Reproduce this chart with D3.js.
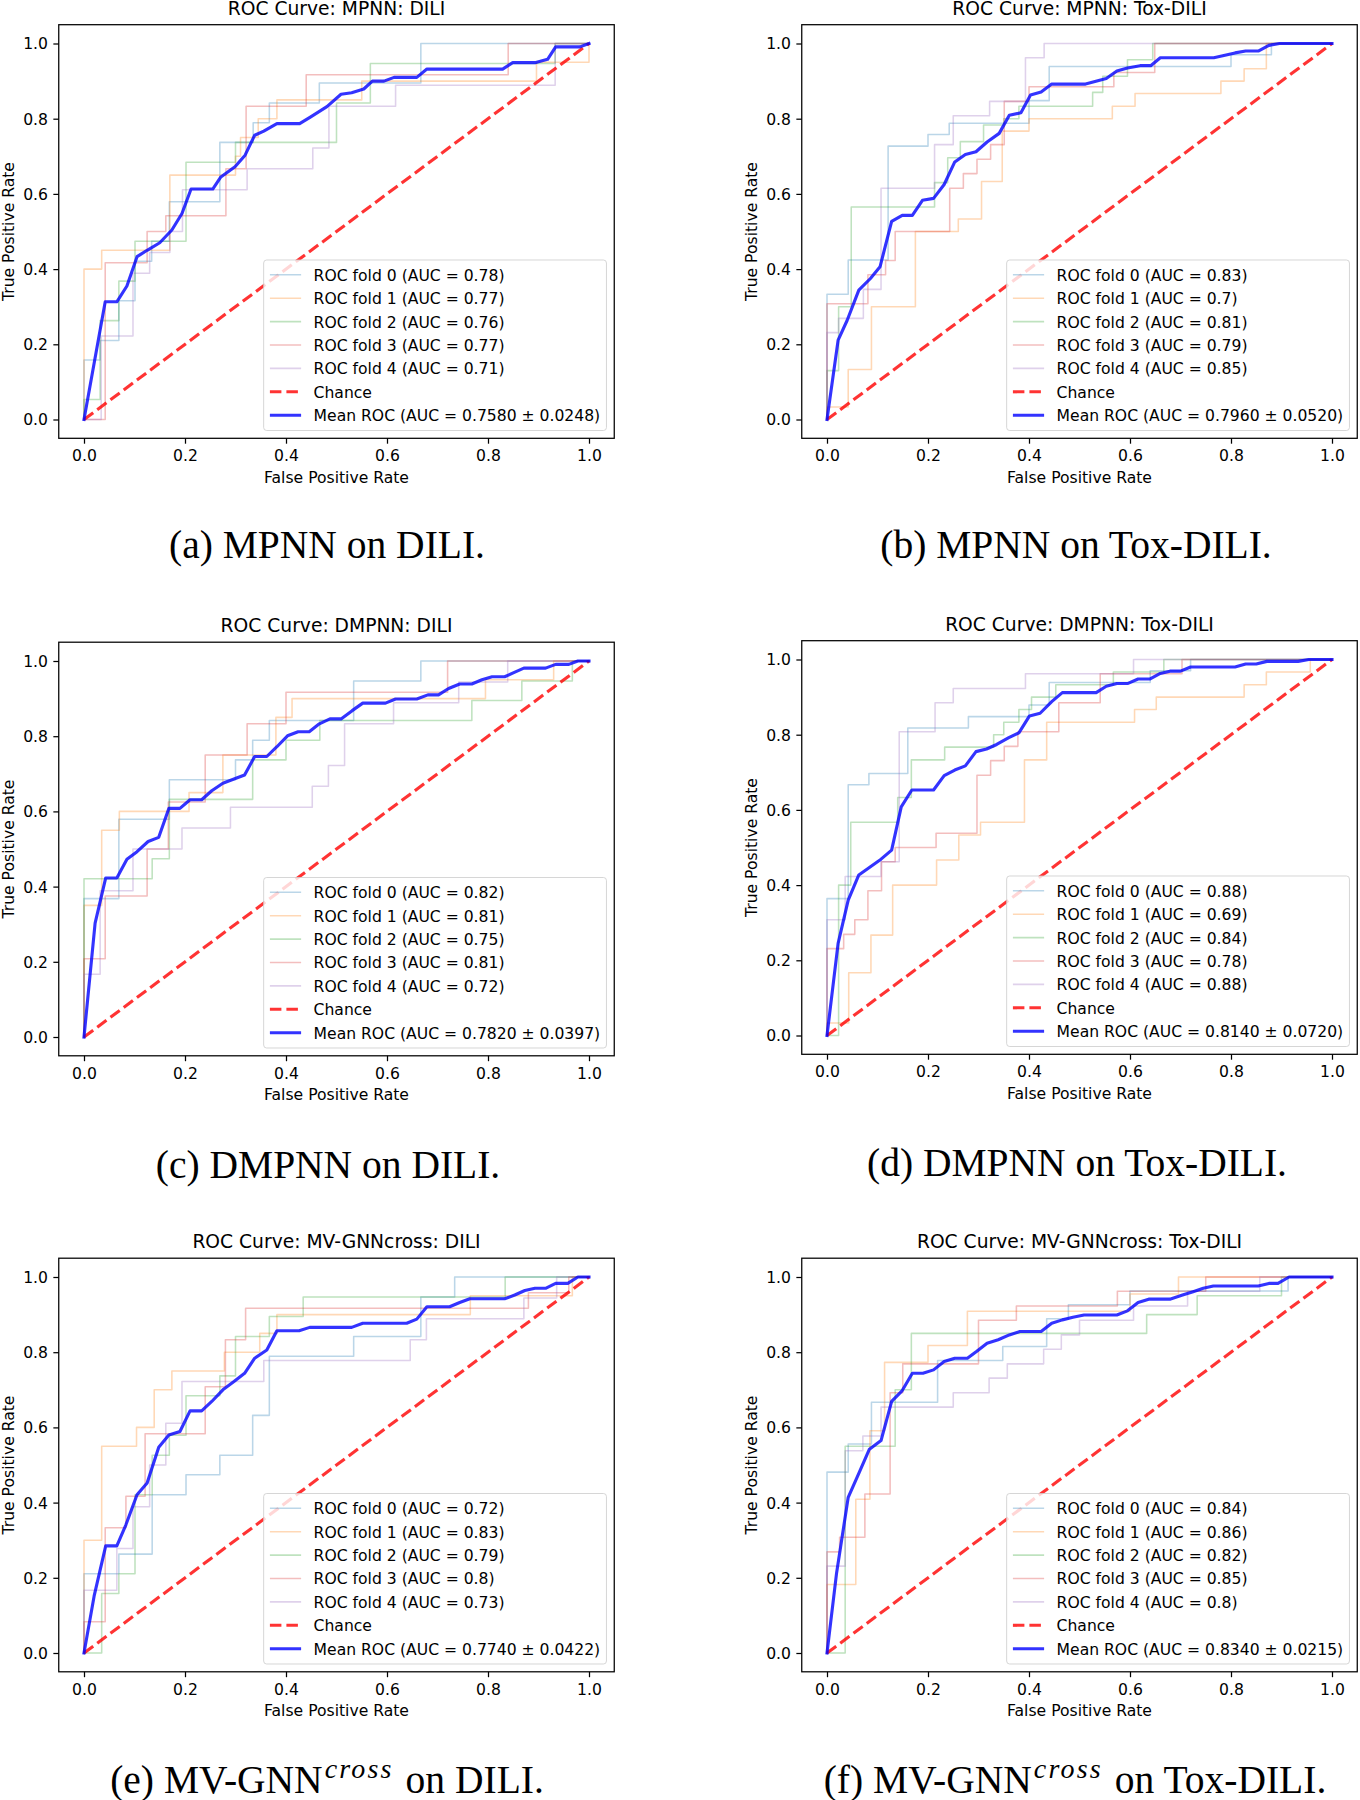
<!DOCTYPE html>
<html>
<head>
<meta charset="utf-8">
<script src="https://cdn.jsdelivr.net/npm/d3@7"></script>
<style>
  html, body { margin: 0; padding: 0; background: #ffffff; }
  svg { display: block; }
</style>
</head>
<body>
<svg id="chart" width="1360" height="1800"></svg>
<script>
// ---------------- data ----------------
const ticks = [0, 0.2, 0.4, 0.6, 0.8, 1.0];
const tickLabels = ["0.0", "0.2", "0.4", "0.6", "0.8", "1.0"];
const foldNames = ["ROC fold 0", "ROC fold 1", "ROC fold 2", "ROC fold 3", "ROC fold 4"];
const foldColors = ["#1f77b4", "#ff7f0e", "#2ca02c", "#d62728", "#9467bd"];
const chanceLine = [[0, 0], [1, 1]];

const titles = ["ROC Curve: MPNN: DILI", "ROC Curve: MPNN: Tox-DILI",
  "ROC Curve: DMPNN: DILI", "ROC Curve: DMPNN: Tox-DILI",
  "ROC Curve: MV-GNNcross: DILI", "ROC Curve: MV-GNNcross: Tox-DILI"];
const captionLetters = ["(a)", "(b)", "(c)", "(d)", "(e)", "(f)"];
const captionModels = ["MPNN", "MPNN", "DMPNN", "DMPNN", "MV-GNN", "MV-GNN"];
const captionSup = ["", "", "", "", "cross", "cross"];
const captionDatasets = ["DILI", "Tox-DILI", "DILI", "Tox-DILI", "DILI", "Tox-DILI"];

const foldAUC = [
  ["0.78", "0.77", "0.76", "0.77", "0.71"],
  ["0.83", "0.7", "0.81", "0.79", "0.85"],
  ["0.82", "0.81", "0.75", "0.81", "0.72"],
  ["0.88", "0.69", "0.84", "0.78", "0.88"],
  ["0.72", "0.83", "0.79", "0.8", "0.73"],
  ["0.84", "0.86", "0.82", "0.85", "0.8"]
];
const meanAUC = ["0.7580 ± 0.0248", "0.7960 ± 0.0520", "0.7820 ± 0.0397",
  "0.8140 ± 0.0720", "0.7740 ± 0.0422", "0.8340 ± 0.0215"];

// (a) MPNN: DILI
const A_fold0 = [[0,0],[0,0.158],[0.032,0.158],[0.032,0.21],[0.069,0.21],[0.069,0.316],[0.101,0.316],[0.101,0.421],[0.134,0.421],[0.134,0.474],[0.169,0.474],[0.169,0.579],[0.269,0.579],[0.269,0.737],[0.335,0.737],[0.335,0.789],[0.367,0.789],[0.367,0.842],[0.466,0.842],[0.466,0.895],[0.667,0.895],[0.667,1],[1,1]];
const A_fold1 = [[0,0],[0,0.4],[0.035,0.4],[0.035,0.45],[0.17,0.45],[0.17,0.65],[0.3,0.65],[0.3,0.7],[0.31,0.7],[0.31,0.75],[0.345,0.75],[0.345,0.8],[0.382,0.8],[0.382,0.85],[0.55,0.85],[0.55,0.9],[0.896,0.9],[0.896,0.95],[1,0.95],[1,1]];
const A_fold2 = [[0,0],[0,0.053],[0.032,0.053],[0.032,0.263],[0.069,0.263],[0.069,0.368],[0.101,0.368],[0.101,0.474],[0.202,0.474],[0.202,0.684],[0.3,0.684],[0.3,0.737],[0.5,0.737],[0.5,0.842],[0.567,0.842],[0.567,0.947],[0.933,0.947],[0.933,1],[1,1]];
const A_fold3 = [[0,0],[0.042,0],[0.042,0.417],[0.125,0.417],[0.125,0.5],[0.162,0.5],[0.162,0.542],[0.281,0.542],[0.281,0.667],[0.321,0.667],[0.321,0.833],[0.44,0.833],[0.44,0.917],[0.84,0.917],[0.84,1],[1,1]];
const A_fold4 = [[0,0],[0.034,0],[0.034,0.222],[0.097,0.222],[0.097,0.389],[0.13,0.389],[0.13,0.444],[0.17,0.444],[0.17,0.5],[0.195,0.5],[0.195,0.611],[0.323,0.611],[0.323,0.667],[0.453,0.667],[0.453,0.722],[0.485,0.722],[0.485,0.833],[0.617,0.833],[0.617,0.889],[0.933,0.889],[0.933,1],[1,1]];
const A_mean = [[0,0],[0.042,0.313],[0.065,0.313],[0.085,0.355],[0.105,0.433],[0.125,0.45],[0.15,0.47],[0.174,0.504],[0.194,0.548],[0.212,0.613],[0.255,0.613],[0.271,0.645],[0.299,0.672],[0.319,0.703],[0.338,0.756],[0.356,0.767],[0.382,0.787],[0.427,0.787],[0.449,0.805],[0.481,0.832],[0.509,0.865],[0.53,0.869],[0.554,0.879],[0.571,0.9],[0.594,0.9],[0.614,0.91],[0.659,0.91],[0.679,0.932],[0.829,0.932],[0.849,0.949],[0.893,0.949],[0.918,0.958],[0.934,0.991],[0.982,0.991],[1,1]];

// (b) MPNN: Tox-DILI
const B_fold0 = [[0,0],[0,0.333],[0.042,0.333],[0.042,0.424],[0.121,0.424],[0.121,0.727],[0.2,0.727],[0.2,0.758],[0.242,0.758],[0.242,0.788],[0.4,0.788],[0.4,0.848],[0.44,0.848],[0.44,0.939],[0.8,0.939],[0.8,0.97],[0.88,0.97],[0.88,1],[1,1]];
const B_fold1 = [[0,0],[0,0.033],[0.042,0.033],[0.042,0.133],[0.088,0.133],[0.088,0.3],[0.175,0.3],[0.175,0.5],[0.26,0.5],[0.26,0.533],[0.306,0.533],[0.306,0.633],[0.347,0.633],[0.347,0.767],[0.4,0.767],[0.4,0.8],[0.565,0.8],[0.565,0.833],[0.61,0.833],[0.61,0.867],[0.78,0.867],[0.78,0.9],[0.826,0.9],[0.826,0.933],[0.87,0.933],[0.87,1],[1,1]];
const B_fold2 = [[0,0],[0,0.13],[0.023,0.13],[0.023,0.3],[0.048,0.3],[0.048,0.565],[0.213,0.565],[0.213,0.63],[0.239,0.63],[0.239,0.696],[0.264,0.696],[0.264,0.739],[0.31,0.739],[0.31,0.783],[0.35,0.783],[0.35,0.8],[0.38,0.8],[0.38,0.833],[0.526,0.833],[0.526,0.87],[0.546,0.87],[0.546,0.913],[0.595,0.913],[0.595,0.957],[0.645,0.957],[0.645,1],[1,1]];
const B_fold3 = [[0,0],[0,0.308],[0.081,0.308],[0.081,0.385],[0.116,0.385],[0.116,0.423],[0.135,0.423],[0.135,0.5],[0.243,0.5],[0.243,0.615],[0.27,0.615],[0.27,0.654],[0.297,0.654],[0.297,0.692],[0.324,0.692],[0.324,0.731],[0.351,0.731],[0.351,0.846],[0.4,0.846],[0.4,0.885],[0.568,0.885],[0.568,0.923],[0.649,0.923],[0.649,1],[1,1]];
const B_fold4 = [[0,0],[0,0.231],[0.023,0.231],[0.023,0.269],[0.072,0.269],[0.072,0.346],[0.107,0.346],[0.107,0.615],[0.213,0.615],[0.213,0.731],[0.25,0.731],[0.25,0.808],[0.322,0.808],[0.322,0.846],[0.393,0.846],[0.393,0.962],[0.43,0.962],[0.43,1],[1,1]];
const B_mean = [[0,0],[0.022,0.211],[0.04,0.264],[0.063,0.344],[0.086,0.375],[0.105,0.406],[0.128,0.527],[0.149,0.543],[0.169,0.543],[0.189,0.583],[0.211,0.588],[0.232,0.625],[0.253,0.685],[0.274,0.705],[0.295,0.712],[0.317,0.738],[0.341,0.761],[0.361,0.809],[0.384,0.816],[0.403,0.863],[0.424,0.871],[0.445,0.892],[0.512,0.892],[0.553,0.907],[0.574,0.927],[0.595,0.935],[0.62,0.941],[0.641,0.941],[0.66,0.962],[0.766,0.962],[0.808,0.975],[0.829,0.98],[0.854,0.98],[0.875,0.995],[0.896,1],[1,1]];

// (c) DMPNN: DILI
const C_fold0 = [[0,0],[0,0.368],[0.069,0.368],[0.069,0.579],[0.169,0.579],[0.169,0.684],[0.3,0.684],[0.3,0.737],[0.334,0.737],[0.334,0.789],[0.367,0.789],[0.367,0.842],[0.534,0.842],[0.534,0.947],[0.667,0.947],[0.667,1],[1,1]];
const C_fold1 = [[0,0],[0,0.35],[0.035,0.35],[0.035,0.55],[0.07,0.55],[0.07,0.6],[0.208,0.6],[0.208,0.65],[0.275,0.65],[0.275,0.75],[0.38,0.75],[0.38,0.85],[0.412,0.85],[0.412,0.9],[0.795,0.9],[0.795,0.95],[0.93,0.95],[0.93,1],[1,1]];
const C_fold2 = [[0,0],[0,0.421],[0.135,0.421],[0.135,0.474],[0.169,0.474],[0.169,0.632],[0.334,0.632],[0.334,0.737],[0.4,0.737],[0.4,0.789],[0.467,0.789],[0.467,0.842],[0.768,0.842],[0.768,0.895],[0.867,0.895],[0.867,0.947],[0.967,0.947],[0.967,1],[1,1]];
const C_fold3 = [[0,0],[0,0.208],[0.042,0.208],[0.042,0.375],[0.125,0.375],[0.125,0.5],[0.167,0.5],[0.167,0.625],[0.24,0.625],[0.24,0.75],[0.323,0.75],[0.323,0.833],[0.4,0.833],[0.4,0.917],[0.72,0.917],[0.72,1],[1,1]];
const C_fold4 = [[0,0],[0,0.167],[0.032,0.167],[0.032,0.389],[0.097,0.389],[0.097,0.5],[0.194,0.5],[0.194,0.556],[0.29,0.556],[0.29,0.611],[0.452,0.611],[0.452,0.667],[0.484,0.667],[0.484,0.722],[0.516,0.722],[0.516,0.833],[0.613,0.833],[0.613,0.889],[0.742,0.889],[0.742,0.944],[0.839,0.944],[0.839,1],[1,1]];
const C_mean = [[0,0],[0.022,0.303],[0.043,0.423],[0.065,0.423],[0.085,0.473],[0.105,0.493],[0.127,0.52],[0.148,0.531],[0.168,0.608],[0.19,0.608],[0.21,0.631],[0.233,0.631],[0.253,0.655],[0.275,0.675],[0.297,0.686],[0.318,0.697],[0.338,0.746],[0.362,0.746],[0.382,0.772],[0.403,0.801],[0.424,0.812],[0.446,0.812],[0.466,0.833],[0.487,0.846],[0.509,0.846],[0.531,0.868],[0.552,0.888],[0.597,0.888],[0.617,0.899],[0.659,0.899],[0.681,0.91],[0.702,0.91],[0.722,0.927],[0.744,0.939],[0.768,0.939],[0.788,0.95],[0.808,0.958],[0.833,0.958],[0.851,0.969],[0.871,0.981],[0.914,0.981],[0.934,0.991],[0.96,0.991],[0.978,1],[1,1]];

// (d) DMPNN: Tox-DILI
const D_fold0 = [[0,0],[0,0.364],[0.042,0.364],[0.042,0.667],[0.083,0.667],[0.083,0.697],[0.16,0.697],[0.16,0.818],[0.28,0.818],[0.28,0.848],[0.4,0.848],[0.4,0.879],[0.44,0.879],[0.44,0.939],[0.64,0.939],[0.64,0.97],[0.72,0.97],[0.72,1],[1,1]];
const D_fold1 = [[0,0],[0,0.033],[0.043,0.033],[0.043,0.167],[0.087,0.167],[0.087,0.267],[0.13,0.267],[0.13,0.4],[0.217,0.4],[0.217,0.467],[0.261,0.467],[0.261,0.533],[0.304,0.533],[0.304,0.567],[0.391,0.567],[0.391,0.733],[0.435,0.733],[0.435,0.833],[0.609,0.833],[0.609,0.867],[0.652,0.867],[0.652,0.9],[0.826,0.9],[0.826,0.933],[0.87,0.933],[0.87,0.967],[0.957,0.967],[0.957,1],[1,1]];
const D_fold2 = [[0,0],[0.023,0],[0.023,0.4],[0.047,0.4],[0.047,0.567],[0.14,0.567],[0.14,0.633],[0.167,0.633],[0.167,0.733],[0.233,0.733],[0.233,0.767],[0.33,0.767],[0.33,0.8],[0.35,0.8],[0.35,0.833],[0.38,0.833],[0.38,0.867],[0.405,0.867],[0.405,0.9],[0.453,0.9],[0.453,0.933],[0.567,0.933],[0.567,0.967],[0.667,0.967],[0.667,1],[1,1]];
const D_fold3 = [[0,0],[0,0.231],[0.033,0.231],[0.033,0.269],[0.055,0.269],[0.055,0.308],[0.081,0.308],[0.081,0.385],[0.108,0.385],[0.108,0.462],[0.135,0.462],[0.135,0.5],[0.216,0.5],[0.216,0.538],[0.297,0.538],[0.297,0.692],[0.324,0.692],[0.324,0.731],[0.351,0.731],[0.351,0.769],[0.378,0.769],[0.378,0.808],[0.459,0.808],[0.459,0.885],[0.541,0.885],[0.541,0.962],[0.703,0.962],[0.703,1],[1,1]];
const D_fold4 = [[0,0],[0,0.308],[0.036,0.308],[0.036,0.423],[0.107,0.423],[0.107,0.462],[0.143,0.462],[0.143,0.808],[0.214,0.808],[0.214,0.885],[0.25,0.885],[0.25,0.923],[0.393,0.923],[0.393,0.962],[0.607,0.962],[0.607,1],[1,1]];
const D_mean = [[0,0],[0.022,0.245],[0.042,0.36],[0.063,0.427],[0.086,0.449],[0.107,0.469],[0.128,0.493],[0.147,0.608],[0.168,0.653],[0.211,0.653],[0.232,0.691],[0.253,0.706],[0.274,0.717],[0.295,0.755],[0.316,0.762],[0.336,0.774],[0.36,0.792],[0.38,0.805],[0.401,0.85],[0.422,0.857],[0.445,0.888],[0.466,0.912],[0.533,0.912],[0.553,0.929],[0.574,0.936],[0.595,0.936],[0.616,0.948],[0.639,0.948],[0.66,0.963],[0.679,0.969],[0.7,0.969],[0.72,0.98],[0.808,0.98],[0.829,0.988],[0.85,0.988],[0.871,0.995],[0.933,0.995],[0.954,1],[1,1]];

// (e) MV-GNNcross: DILI
const E_fold0 = [[0,0],[0,0.211],[0.069,0.211],[0.069,0.263],[0.135,0.263],[0.135,0.421],[0.202,0.421],[0.202,0.474],[0.269,0.474],[0.269,0.526],[0.334,0.526],[0.334,0.632],[0.367,0.632],[0.367,0.789],[0.534,0.789],[0.534,0.842],[0.667,0.842],[0.667,0.947],[0.734,0.947],[0.734,1],[1,1]];
const E_fold1 = [[0,0],[0,0.3],[0.035,0.3],[0.035,0.55],[0.104,0.55],[0.104,0.6],[0.139,0.6],[0.139,0.7],[0.174,0.7],[0.174,0.75],[0.278,0.75],[0.278,0.8],[0.348,0.8],[0.348,0.85],[0.382,0.85],[0.382,0.9],[0.765,0.9],[0.765,0.95],[0.967,0.95],[0.967,1],[1,1]];
const E_fold2 = [[0,0],[0.035,0],[0.035,0.158],[0.069,0.158],[0.069,0.211],[0.101,0.211],[0.101,0.421],[0.135,0.421],[0.135,0.526],[0.169,0.526],[0.169,0.579],[0.202,0.579],[0.202,0.684],[0.269,0.684],[0.269,0.737],[0.3,0.737],[0.3,0.842],[0.367,0.842],[0.367,0.895],[0.434,0.895],[0.434,0.947],[0.834,0.947],[0.834,1],[1,1]];
const E_fold3 = [[0,0],[0,0.083],[0.042,0.083],[0.042,0.333],[0.083,0.333],[0.083,0.417],[0.121,0.417],[0.121,0.583],[0.24,0.583],[0.24,0.708],[0.28,0.708],[0.28,0.833],[0.32,0.833],[0.32,0.917],[0.88,0.917],[0.88,0.958],[0.96,0.958],[0.96,1],[1,1]];
const E_fold4 = [[0,0],[0,0.167],[0.065,0.167],[0.065,0.278],[0.097,0.278],[0.097,0.389],[0.13,0.389],[0.13,0.5],[0.162,0.5],[0.162,0.611],[0.194,0.611],[0.194,0.722],[0.356,0.722],[0.356,0.778],[0.646,0.778],[0.646,0.833],[0.678,0.833],[0.678,0.889],[0.871,0.889],[0.871,0.944],[0.936,0.944],[0.936,1],[1,1]];
const E_mean = [[0,0],[0.02,0.151],[0.043,0.285],[0.065,0.285],[0.083,0.341],[0.105,0.421],[0.125,0.452],[0.148,0.547],[0.168,0.58],[0.19,0.589],[0.21,0.644],[0.233,0.644],[0.253,0.669],[0.275,0.7],[0.297,0.722],[0.318,0.744],[0.338,0.784],[0.362,0.806],[0.382,0.857],[0.426,0.857],[0.447,0.866],[0.53,0.866],[0.552,0.877],[0.639,0.877],[0.659,0.888],[0.679,0.921],[0.724,0.921],[0.744,0.932],[0.764,0.942],[0.833,0.942],[0.853,0.952],[0.873,0.964],[0.893,0.97],[0.914,0.97],[0.934,0.983],[0.958,0.983],[0.978,1],[1,1]];

// (f) MV-GNNcross: Tox-DILI
const F_fold0 = [[0,0],[0,0.481],[0.042,0.481],[0.042,0.556],[0.088,0.556],[0.088,0.667],[0.219,0.667],[0.219,0.778],[0.348,0.778],[0.348,0.815],[0.435,0.815],[0.435,0.889],[0.478,0.889],[0.478,0.926],[0.6,0.926],[0.6,0.963],[0.913,0.963],[0.913,1],[1,1]];
const F_fold1 = [[0,0],[0,0.182],[0.057,0.182],[0.057,0.409],[0.085,0.409],[0.085,0.591],[0.114,0.591],[0.114,0.773],[0.2,0.773],[0.2,0.818],[0.278,0.818],[0.278,0.909],[0.6,0.909],[0.6,0.955],[0.696,0.955],[0.696,1],[1,1]];
const F_fold2 = [[0,0],[0.036,0],[0.036,0.55],[0.135,0.55],[0.135,0.7],[0.167,0.7],[0.167,0.85],[0.633,0.85],[0.633,0.9],[0.733,0.9],[0.733,0.95],[0.9,0.95],[0.9,1],[1,1]];
const F_fold3 = [[0,0],[0,0.269],[0.025,0.269],[0.025,0.308],[0.075,0.308],[0.075,0.423],[0.125,0.423],[0.125,0.692],[0.15,0.692],[0.15,0.769],[0.3,0.769],[0.3,0.885],[0.375,0.885],[0.375,0.923],[0.575,0.923],[0.575,0.962],[0.75,0.962],[0.75,1],[1,1]];
const F_fold4 = [[0,0],[0,0.231],[0.036,0.231],[0.036,0.538],[0.071,0.538],[0.071,0.577],[0.107,0.577],[0.107,0.654],[0.25,0.654],[0.25,0.692],[0.321,0.692],[0.321,0.731],[0.357,0.731],[0.357,0.769],[0.429,0.769],[0.429,0.808],[0.464,0.808],[0.464,0.846],[0.5,0.846],[0.5,0.885],[0.607,0.885],[0.607,0.923],[0.714,0.923],[0.714,0.962],[0.857,0.962],[0.857,1],[1,1]];
const F_mean = [[0,0],[0.019,0.213],[0.042,0.414],[0.063,0.478],[0.084,0.542],[0.107,0.565],[0.128,0.669],[0.149,0.698],[0.169,0.744],[0.19,0.744],[0.211,0.753],[0.232,0.775],[0.253,0.784],[0.278,0.784],[0.296,0.802],[0.317,0.824],[0.339,0.833],[0.361,0.846],[0.382,0.855],[0.424,0.855],[0.445,0.877],[0.466,0.886],[0.487,0.893],[0.509,0.899],[0.574,0.899],[0.595,0.91],[0.616,0.932],[0.637,0.941],[0.679,0.941],[0.704,0.952],[0.725,0.961],[0.745,0.97],[0.765,0.976],[0.854,0.976],[0.875,0.983],[0.893,0.983],[0.915,1],[1,1]];

const allFolds = [
  [A_fold0, A_fold1, A_fold2, A_fold3, A_fold4],
  [B_fold0, B_fold1, B_fold2, B_fold3, B_fold4],
  [C_fold0, C_fold1, C_fold2, C_fold3, C_fold4],
  [D_fold0, D_fold1, D_fold2, D_fold3, D_fold4],
  [E_fold0, E_fold1, E_fold2, E_fold3, E_fold4],
  [F_fold0, F_fold1, F_fold2, F_fold3, F_fold4]
];
const allMeans = [A_mean, B_mean, C_mean, D_mean, E_mean, F_mean];

// ---------------- layout (pixels) ----------------
const layout = [
  { x0: 84,  x1: 589,  y0: 419.5,  y1: 43.5,  capX: 327,  capY: 558 },
  { x0: 827, x1: 1332, y0: 419.5,  y1: 43.5,  capX: 1076, capY: 558 },
  { x0: 84,  x1: 589,  y0: 1037,   y1: 661,   capX: 328,  capY: 1178 },
  { x0: 827, x1: 1332, y0: 1035.5, y1: 659.5, capX: 1077, capY: 1176 },
  { x0: 84,  x1: 589,  y0: 1653,   y1: 1277,  capX: 327,  capY: 1793 },
  { x0: 827, x1: 1332, y0: 1653,   y1: 1277,  capX: 1075, capY: 1793 }
];

const FS = 15.6;          // base font size (ticks, labels, legend)
const TFS = 18.7;         // title font size
const SANS = "'DejaVu Sans', sans-serif";
const SERIF = "'Liberation Serif', 'Times New Roman', serif";
const LW = 1.56;          // 1pt line
const svg = d3.select("#chart");
svg.append("rect").attr("width", 1360).attr("height", 1800).attr("fill", "#ffffff");

function drawPanel(i) {
  const L = layout[i];
  const x = d3.scaleLinear().domain([0, 1]).range([L.x0, L.x1]);
  const y = d3.scaleLinear().domain([0, 1]).range([L.y0, L.y1]);
  const left = x(-0.05), right = x(1.05), top = y(1.05), bottom = y(-0.05);
  const g = svg.append("g");
  const line = d3.line().x(d => x(d[0])).y(d => y(d[1]));

  // fold curves
  allFolds[i].forEach((f, k) => {
    g.append("path").datum(f).attr("d", line)
      .attr("fill", "none").attr("stroke", foldColors[k])
      .attr("stroke-opacity", 0.3).attr("stroke-width", LW)
      .attr("stroke-linejoin", "round").attr("stroke-linecap", "square");
  });
  // chance line
  g.append("path").datum(chanceLine).attr("d", line)
    .attr("fill", "none").attr("stroke", "#ff0000").attr("stroke-opacity", 0.8)
    .attr("stroke-width", 2 * LW).attr("stroke-dasharray", "11.5,5");
  // mean curve
  g.append("path").datum(allMeans[i]).attr("d", line)
    .attr("fill", "none").attr("stroke", "#0000ff").attr("stroke-opacity", 0.8)
    .attr("stroke-width", 2 * LW).attr("stroke-linejoin", "round").attr("stroke-linecap", "square");

  // spines
  g.append("rect").attr("x", left).attr("y", top)
    .attr("width", right - left).attr("height", bottom - top)
    .attr("fill", "none").attr("stroke", "#000").attr("stroke-width", 1.25);

  // axes
  const gx = g.append("g").attr("transform", `translate(0,${bottom})`)
    .call(d3.axisBottom(x).tickValues(ticks).tickFormat((d, k) => tickLabels[k])
      .tickSize(5.4).tickPadding(6.5));
  gx.select(".domain").remove();
  const gy = g.append("g").attr("transform", `translate(${left},0)`)
    .call(d3.axisLeft(y).tickValues(ticks).tickFormat((d, k) => tickLabels[k])
      .tickSize(5.4).tickPadding(5.4));
  gy.select(".domain").remove();
  [gx, gy].forEach(a => {
    a.attr("font-family", SANS).attr("font-size", FS);
    a.selectAll(".tick line").attr("stroke", "#000").attr("stroke-width", 1.25);
    a.selectAll(".tick text").attr("fill", "#000");
  });
  gy.selectAll(".tick text").attr("dy", "0.35em");

  // title & labels
  g.append("text").attr("x", (left + right) / 2).attr("y", top - 9.8)
    .attr("text-anchor", "middle").attr("font-family", SANS).attr("font-size", TFS)
    .attr("fill", "#000").text(titles[i]);
  g.append("text").attr("x", (left + right) / 2).attr("y", bottom + 44.2)
    .attr("text-anchor", "middle").attr("font-family", SANS).attr("font-size", FS)
    .attr("fill", "#000").text("False Positive Rate");
  g.append("text")
    .attr("transform", `translate(${left - 44.7},${(top + bottom) / 2}) rotate(-90)`)
    .attr("text-anchor", "middle").attr("font-family", SANS).attr("font-size", FS)
    .attr("fill", "#000").text("True Positive Rate");

  // legend
  const entries = foldNames.map((n, k) => ({
    label: `${n} (AUC = ${foldAUC[i][k]})`, color: foldColors[k], op: 0.3, w: LW, dash: null
  }));
  entries.push({ label: "Chance", color: "#ff0000", op: 0.8, w: 2 * LW, dash: "11.5,5" });
  entries.push({ label: `Mean ROC (AUC = ${meanAUC[i]})`, color: "#0000ff", op: 0.8, w: 2 * LW, dash: null });

  const pad = 0.4 * FS, handleLen = 2 * FS, textPad = 0.8 * FS, rowStep = 1.5 * FS;
  const boxRight = right - 0.5 * FS, boxBottom = bottom - 0.5 * FS;
  const padTop = 14.8, padBottom = 15.3;
  const boxTop = boxBottom - padBottom - padTop - rowStep * (entries.length - 1);
  const lg = g.append("g");
  const frame = lg.append("rect");
  const texts = [];
  entries.forEach((e, k) => {
    const cy = boxTop + padTop + k * rowStep;
    texts.push(lg.append("text").attr("y", cy + 0.38 * FS)
      .attr("font-family", SANS).attr("font-size", FS).attr("fill", "#000").text(e.label));
    e.cy = cy;
  });
  const maxW = d3.max(texts, t => t.node().getComputedTextLength());
  const boxLeft = boxRight - (pad + handleLen + textPad + maxW + pad);
  frame.attr("x", boxLeft).attr("y", boxTop).attr("width", boxRight - boxLeft)
    .attr("height", boxBottom - boxTop).attr("rx", 3).attr("ry", 3)
    .attr("fill", "#ffffff").attr("fill-opacity", 0.8)
    .attr("stroke", "#cccccc").attr("stroke-opacity", 0.8).attr("stroke-width", 1);
  entries.forEach((e, k) => {
    const hx = boxLeft + pad;
    const ln = lg.append("line").attr("x1", hx).attr("x2", hx + handleLen)
      .attr("y1", e.cy).attr("y2", e.cy)
      .attr("stroke", e.color).attr("stroke-opacity", e.op).attr("stroke-width", e.w);
    if (e.dash) ln.attr("stroke-dasharray", e.dash);
    texts[k].attr("x", hx + handleLen + textPad);
  });

  // caption
  const cap = svg.append("text").attr("x", layout[i].capX).attr("y", layout[i].capY)
    .attr("text-anchor", "middle").attr("font-family", SERIF).attr("font-size", 39.5)
    .attr("fill", "#000");
  if (captionSup[i]) {
    cap.append("tspan").text(`${captionLetters[i]} ${captionModels[i]}`);
    cap.append("tspan").attr("font-style", "italic").attr("font-size", 28)
      .attr("letter-spacing", 2.2).attr("dx", 2).attr("dy", -15).text(captionSup[i]);
    cap.append("tspan").attr("dx", 2).attr("dy", 15).text(` on ${captionDatasets[i]}.`);
  } else {
    cap.text(`${captionLetters[i]} ${captionModels[i]} on ${captionDatasets[i]}.`);
  }
}

for (let i = 0; i < 6; i++) drawPanel(i);
</script>
</body>
</html>
